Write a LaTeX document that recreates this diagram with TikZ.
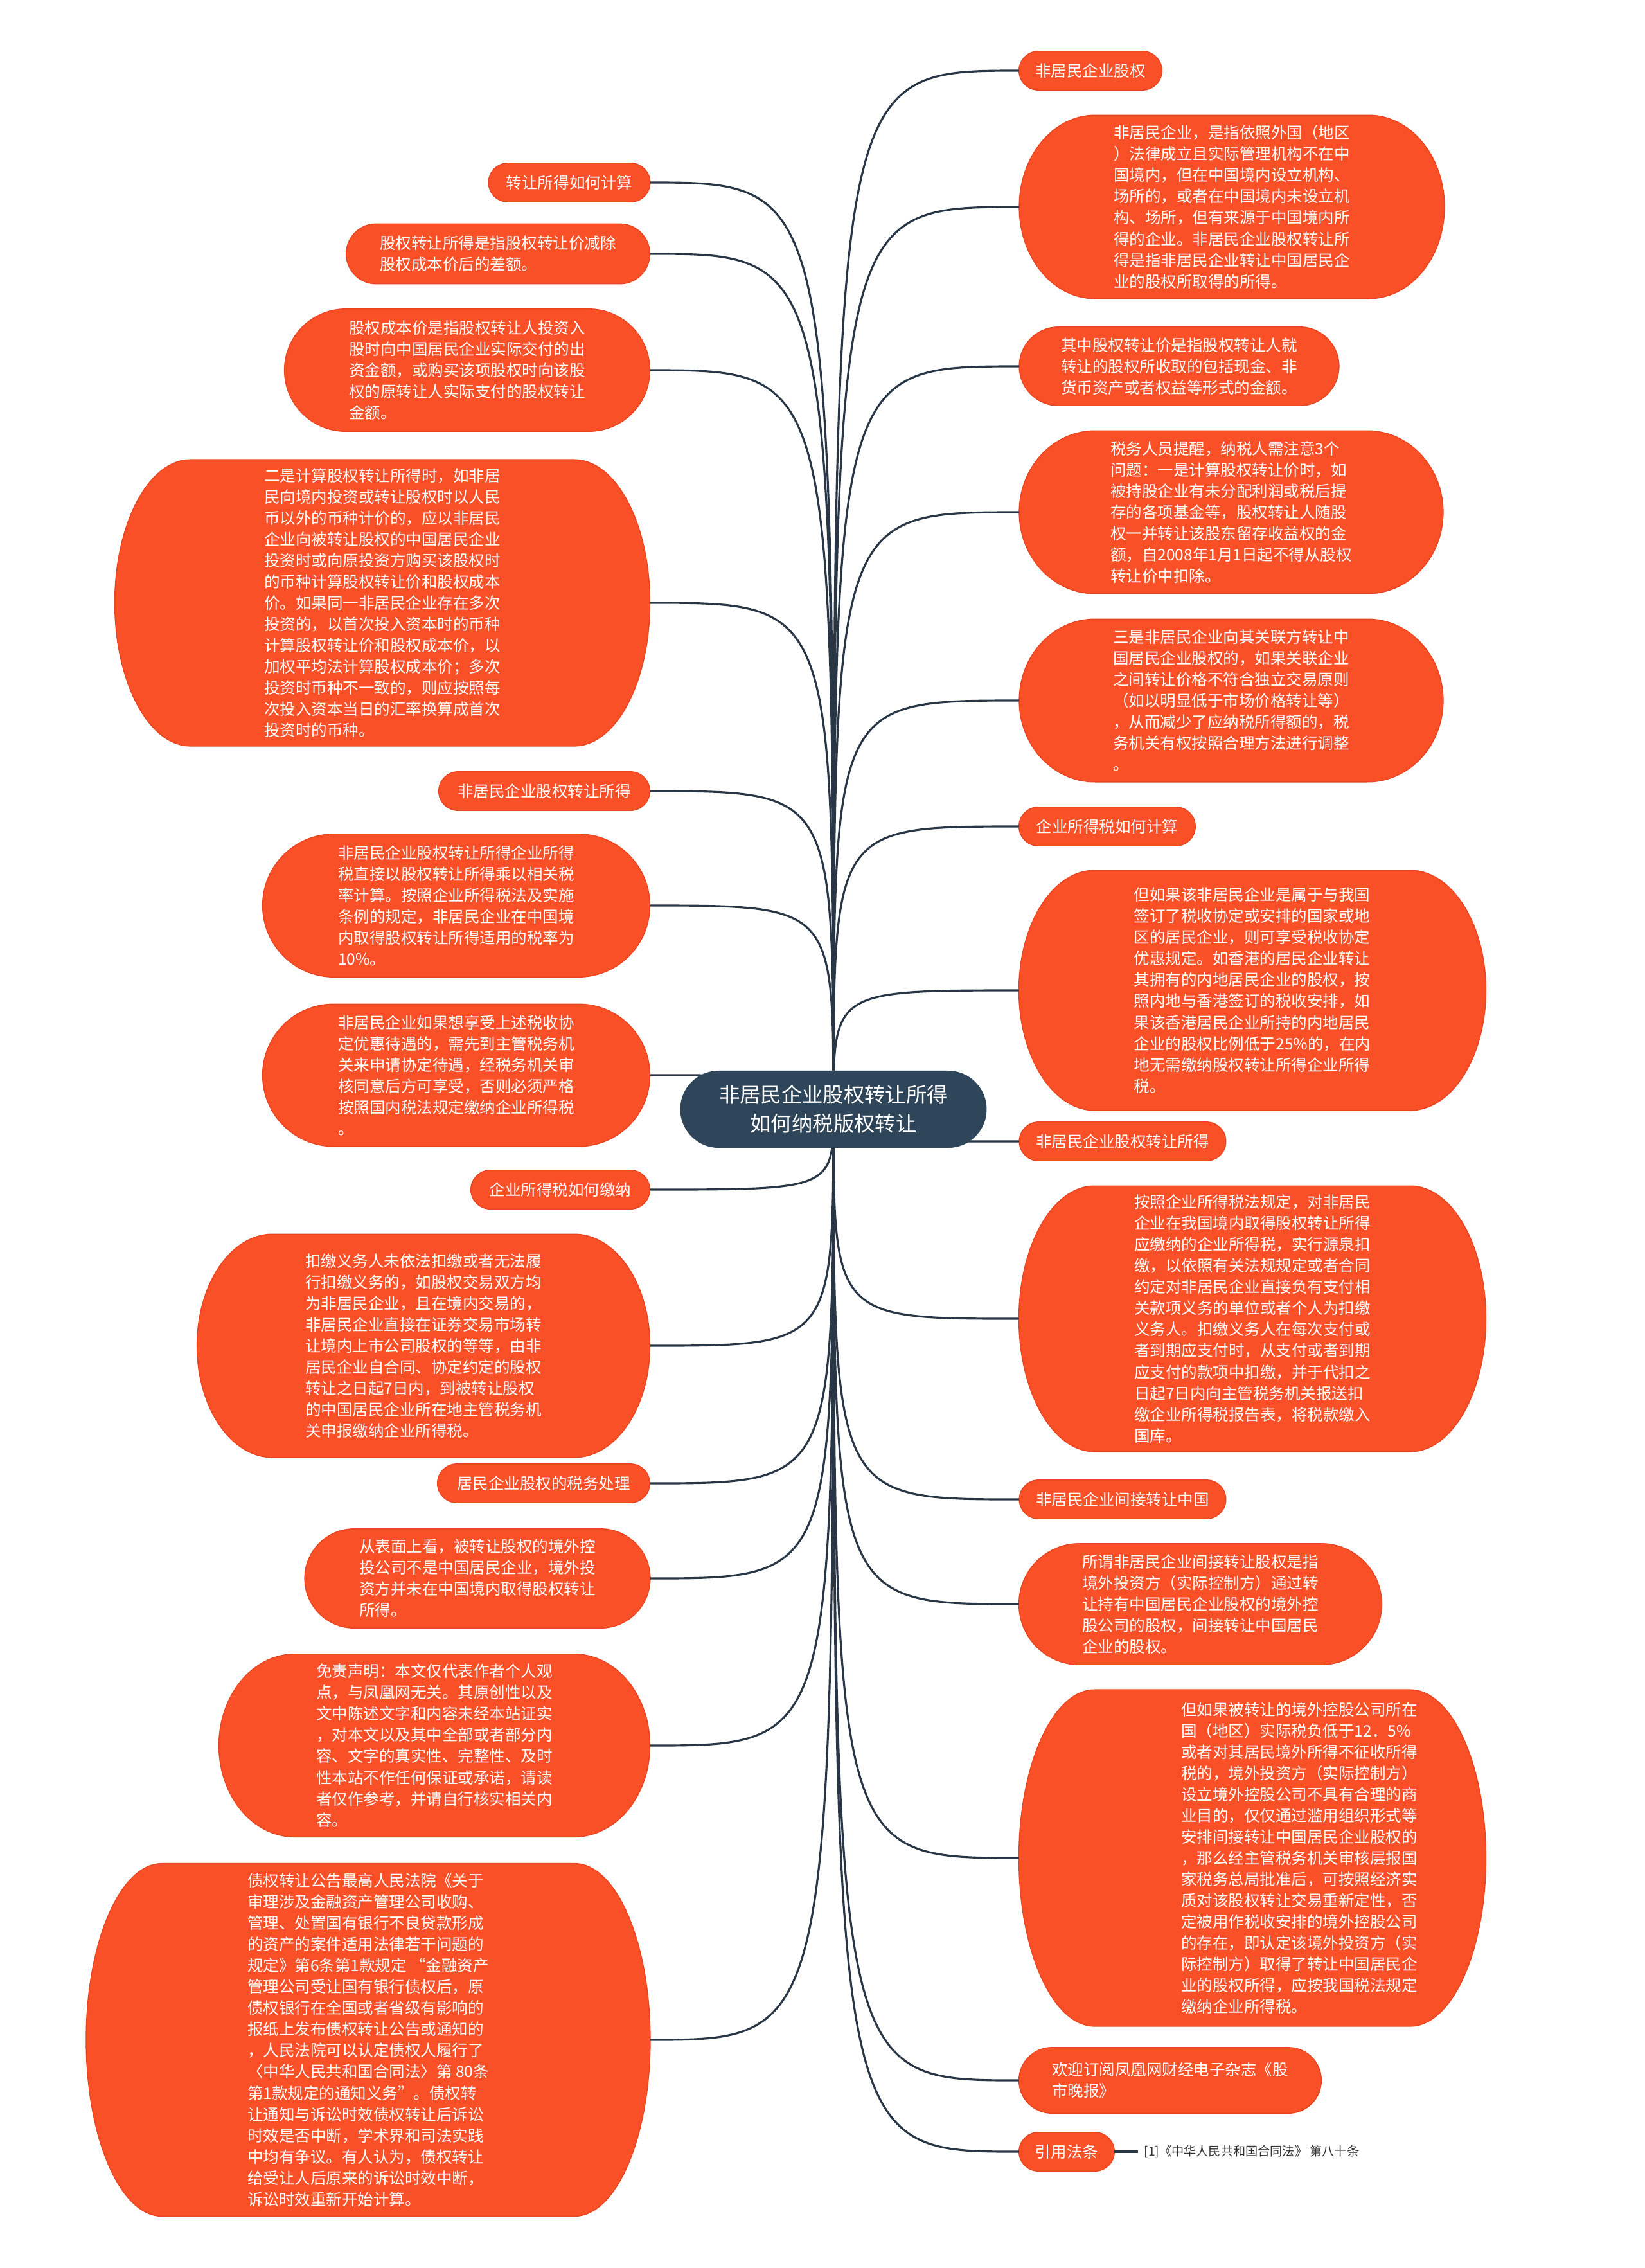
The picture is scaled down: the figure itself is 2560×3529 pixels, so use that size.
\documentclass[tikz,border=0pt]{standalone}
\usepackage{fontspec}
\setmainfont{Noto Sans CJK SC}
\usepackage{tikz}
\usetikzlibrary{shapes.misc, backgrounds, calc}
\definecolor{leafcolor}{RGB}{250, 80, 40}
\definecolor{leafedge}{RGB}{232, 68, 32}
\definecolor{rootcolor}{RGB}{47, 69, 89}
\definecolor{linecolor}{RGB}{40, 54, 70}
\definecolor{refcolor}{RGB}{51, 51, 51}
\newcommand{\leaffont}{\fontsize{6.97pt}{9.4pt}\selectfont}
\newcommand{\rootfont}{\fontsize{9.2pt}{12.8pt}\selectfont}
\newcommand{\reffont}{\fontsize{5.45pt}{6.8pt}\selectfont}

\begin{document}
\begin{tikzpicture}[x=0.01cm, y=-0.01cm,
    branch/.style={draw=linecolor, line width=0.9pt},
    topic/.style={rectangle, text=white, inner sep=0pt, minimum height=0.59cm, font=\leaffont},
    notebox/.style={topic, align=left},
    capsule/.style={fill=leafcolor, draw=leafedge, line width=0.4pt}]

    \useasboundingbox (0,0) rectangle (2560,3529);

    % Central topic
    \node[rounded rectangle, fill=rootcolor, text=white, align=center, font=\rootfont, minimum width=5cm, minimum height=1.2cm] (root) at (1297,1726) {非居民企业股权转让所得\\如何纳税版权转让};

    % Right side
    \node[topic, minimum width=2.21cm] (r1) at (1697,110) {非居民企业股权};
    \node[notebox, minimum width=6.60cm, minimum height=2.84cm] (r2) at (1917,322) {非居民企业，是指依照外国（地区\\）法律成立且实际管理机构不在中\\国境内，但在中国境内设立机构、\\场所的，或者在中国境内未设立机\\构、场所，但有来源于中国境内所\\得的企业。非居民企业股权转让所\\得是指非居民企业转让中国居民企\\业的股权所取得的所得。};
    \node[notebox, minimum width=4.96cm, minimum height=1.21cm] (r3) at (1835,570) {其中股权转让价是指股权转让人就\\转让的股权所收取的包括现金、非\\货币资产或者权益等形式的金额。};
    \node[notebox, minimum width=6.58cm, minimum height=2.52cm] (r4) at (1916,797) {税务人员提醒，纳税人需注意3个\\问题：一是计算股权转让价时，如\\被持股企业有未分配利润或税后提\\存的各项基金等，股权转让人随股\\权一并转让该股东留存收益权的金\\额，自2008年1月1日起不得从股权\\转让价中扣除。};
    \node[notebox, minimum width=6.58cm, minimum height=2.52cm] (r5) at (1916,1090) {三是非居民企业向其关联方转让中\\国居民企业股权的，如果关联企业\\之间转让价格不符合独立交易原则\\（如以明显低于市场价格转让等）\\，从而减少了应纳税所得额的，税\\务机关有权按照合理方法进行调整\\。};
    \node[topic, minimum width=2.73cm] (r6) at (1723,1286) {企业所得税如何计算};
    \node[notebox, minimum width=7.25cm, minimum height=3.72cm] (r7) at (1949,1541) {但如果该非居民企业是属于与我国\\签订了税收协定或安排的国家或地\\区的居民企业，则可享受税收协定\\优惠规定。如香港的居民企业转让\\其拥有的内地居民企业的股权，按\\照内地与香港签订的税收安排，如\\果该香港居民企业所持的内地居民\\企业的股权比例低于25\%的，在内\\地无需缴纳股权转让所得企业所得\\税。};
    \node[topic, minimum width=3.20cm] (r8) at (1747,1776) {非居民企业股权转让所得};
    \node[notebox, minimum width=7.25cm, minimum height=4.12cm] (r9) at (1949,2052) {按照企业所得税法规定，对非居民\\企业在我国境内取得股权转让所得\\应缴纳的企业所得税，实行源泉扣\\缴，以依照有关法规规定或者合同\\约定对非居民企业直接负有支付相\\关款项义务的单位或者个人为扣缴\\义务人。扣缴义务人在每次支付或\\者到期应支付时，从支付或者到期\\应支付的款项中扣缴，并于代扣之\\日起7日内向主管税务机关报送扣\\缴企业所得税报告表，将税款缴入\\国库。};
    \node[topic, minimum width=3.20cm] (r10) at (1747,2333) {非居民企业间接转让中国};
    \node[notebox, minimum width=5.63cm, minimum height=1.87cm] (r11) at (1868,2496) {所谓非居民企业间接转让股权是指\\境外投资方（实际控制方）通过转\\让持有中国居民企业股权的境外控\\股公司的股权，间接转让中国居民\\企业的股权。};
    \node[notebox, minimum width=7.25cm, minimum height=5.22cm] (r12) at (1949,2891) {};
    \node[text=white, align=left, font=\leaffont, inner sep=0pt] (r12text) at (2022,2891) {但如果被转让的境外控股公司所在\\国（地区）实际税负低于12．5\%\\或者对其居民境外所得不征收所得\\税的，境外投资方（实际控制方）\\设立境外控股公司不具有合理的商\\业目的，仅仅通过滥用组织形式等\\安排间接转让中国居民企业股权的\\，那么经主管税务机关审核层报国\\家税务总局批准后，可按照经济实\\质对该股权转让交易重新定性，否\\定被用作税收安排的境外控股公司\\的存在，即认定该境外投资方（实\\际控制方）取得了转让中国居民企\\业的股权所得，应按我国税法规定\\缴纳企业所得税。};
    \node[notebox, minimum width=4.69cm, minimum height=1.01cm] (r13) at (1821,3237) {欢迎订阅凤凰网财经电子杂志《股\\市晚报》};
    \node[topic, minimum width=1.47cm] (r14) at (1660,3348) {引用法条};
    \node[font=\reffont, text=refcolor, anchor=west, inner sep=0.09cm] (lawref) at (1771,3348) {[1]《中华人民共和国合同法》 第八十条};

    % Left side
    \node[topic, minimum width=2.50cm] (l1) at (886,284) {转让所得如何计算};
    \node[notebox, minimum width=4.71cm, minimum height=0.92cm] (l2) at (775,395) {股权转让所得是指股权转让价减除\\股权成本价后的差额。};
    \node[notebox, minimum width=5.67cm, minimum height=1.89cm] (l3) at (727,576) {股权成本价是指股权转让人投资入\\股时向中国居民企业实际交付的出\\资金额，或购买该项股权时向该股\\权的原转让人实际支付的股权转让\\金额。};
    \node[notebox, minimum width=8.31cm, minimum height=4.44cm] (l4) at (595,938) {二是计算股权转让所得时，如非居\\民向境内投资或转让股权时以人民\\币以外的币种计价的，应以非居民\\企业向被转让股权的中国居民企业\\投资时或向原投资方购买该股权时\\的币种计算股权转让价和股权成本\\价。如果同一非居民企业存在多次\\投资的，以首次投入资本时的币种\\计算股权转让价和股权成本价，以\\加权平均法计算股权成本价；多次\\投资时币种不一致的，则应按照每\\次投入资本当日的汇率换算成首次\\投资时的币种。};
    \node[topic, minimum width=3.27cm] (l5) at (847,1231) {非居民企业股权转让所得};
    \node[notebox, minimum width=6.01cm, minimum height=2.21cm] (l6) at (710,1409) {非居民企业股权转让所得企业所得\\税直接以股权转让所得乘以相关税\\率计算。按照企业所得税法及实施\\条例的规定，非居民企业在中国境\\内取得股权转让所得适用的税率为\\10\%。};
    \node[notebox, minimum width=6.01cm, minimum height=2.20cm] (l7) at (710,1673) {非居民企业如果想享受上述税收协\\定优惠待遇的，需先到主管税务机\\关来申请协定待遇，经税务机关审\\核同意后方可享受，否则必须严格\\按照国内税法规定缴纳企业所得税\\。};
    \node[topic, minimum width=2.77cm] (l8) at (872,1851) {企业所得税如何缴纳};
    \node[notebox, minimum width=7.03cm, minimum height=3.46cm] (l9) at (659,2094) {扣缴义务人未依法扣缴或者无法履\\行扣缴义务的，如股权交易双方均\\为非居民企业，且在境内交易的，\\非居民企业直接在证券交易市场转\\让境内上市公司股权的等等，由非\\居民企业自合同、协定约定的股权\\转让之日起7日内，到被转让股权\\的中国居民企业所在地主管税务机\\关申报缴纳企业所得税。};
    \node[topic, minimum width=3.29cm] (l10) at (846,2308) {居民企业股权的税务处理};
    \node[notebox, minimum width=5.36cm, minimum height=1.53cm] (l11) at (743,2456) {从表面上看，被转让股权的境外控\\投公司不是中国居民企业，境外投\\资方并未在中国境内取得股权转让\\所得。};
    \node[notebox, minimum width=6.69cm, minimum height=2.83cm] (l12) at (676,2716) {免责声明：本文仅代表作者个人观\\点，与凤凰网无关。其原创性以及\\文中陈述文字和内容未经本站证实\\，对本文以及其中全部或者部分内\\容、文字的真实性、完整性、及时\\性本站不作任何保证或承诺，请读\\者仅作参考，并请自行核实相关内\\容。};
    \node[notebox, minimum width=8.76cm, minimum height=5.47cm] (l13) at (573,3174) {债权转让公告最高人民法院《关于\\审理涉及金融资产管理公司收购、\\管理、处置国有银行不良贷款形成\\的资产的案件适用法律若干问题的\\规定》第6条第1款规定 “金融资产\\管理公司受让国有银行债权后，原\\债权银行在全国或者省级有影响的\\报纸上发布债权转让公告或通知的\\，人民法院可以认定债权人履行了\\〈中华人民共和国合同法〉第 80条\\第1款规定的通知义务”。债权转\\让通知与诉讼时效债权转让后诉讼\\时效是否中断，学术界和司法实践\\中均有争议。有人认为，债权转让\\给受让人后原来的诉讼时效中断，\\诉讼时效重新开始计算。};

    % Capsules behind the nodes, ends are half ellipses
    \begin{scope}[on background layer]
        \foreach \nm in {r1,r2,r3,r4,r5,r6,r7,r8,r9,r10,r11,r12,r13,r14,l1,l2,l3,l4,l5,l6,l7,l8,l9,l10,l11,l12,l13}
            \path let \p1=(\nm.north east), \p2=(\nm.south west), \n1={(\y1-\y2)/2}, \n2={min(\n1,33.5)} in
                [capsule] (\x2+\n2,\y1) -- (\x1-\n2,\y1)
                arc[start angle=90, end angle=-90, x radius=\n2, y radius=\n1]
                -- (\x2+\n2,\y2)
                arc[start angle=270, end angle=90, x radius=\n2, y radius=\n1] -- cycle;
    \end{scope}

    % Connectors
    \begin{scope}[on background layer]
        \foreach \i in {1,...,14}
            \draw[branch] (root.center) .. controls (root.center |- r\i.west) .. (r\i.west);
        \foreach \i in {1,...,13}
            \draw[branch] (root.center) .. controls (root.center |- l\i.east) .. (l\i.east);
    \end{scope}
    \draw[branch] (r14.east) -- (lawref.west);

\end{tikzpicture}
\end{document}
